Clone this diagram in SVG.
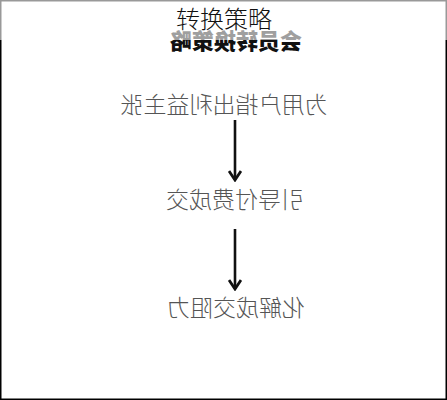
<svg xmlns="http://www.w3.org/2000/svg" width="447" height="400" viewBox="0 0 447 400">
<style>
.m{font-family:"Noto Sans CJK SC","Noto Sans",sans-serif;font-size:23px;fill:#555;text-anchor:middle;font-weight:300}
.t{font-family:"Noto Sans CJK SC","Noto Sans",sans-serif;font-size:22px;fill:#111;text-anchor:middle;font-weight:900}
.a{stroke:#111;stroke-width:2.6;fill:none}
</style>
<defs>
<marker id="ah" viewBox="0 0 14 14" refX="12" refY="7" markerWidth="14" markerHeight="14" markerUnits="userSpaceOnUse" orient="auto">
<path d="M3,1 L12,7 L3,13" stroke="#111" stroke-width="2.8" fill="none"/>
</marker>
</defs>
<rect x="0" y="0" width="447" height="400" fill="#fff"/>
<g id="frame">
<rect x="0.75" y="0.75" width="445.5" height="398.5" fill="none" stroke="#000" stroke-width="1.5"/>
</g>
<g id="title"><text class="t" transform="translate(236,49) scale(-1,1)">会员转换策略</text></g>
<g id="n1"><text class="m" transform="translate(224,113) scale(-1,1)">为用户指出利益主张</text></g>
<g id="n2"><text class="m" transform="translate(235,208) scale(-1,1)">引导付费成交</text></g>
<g id="n3"><text class="m" transform="translate(236,316) scale(-1,1)">化解成交阻力</text></g>
<g id="connectors">
<line class="a" x1="235" y1="120" x2="235" y2="180" marker-end="url(#ah)"/>
<line class="a" x1="235" y1="229" x2="235" y2="289" marker-end="url(#ah)"/>
</g>
<rect id="band" x="0" y="0" width="447" height="40" fill="#fff" opacity="0.6"/>
<g id="header"><text x="224" y="28" font-family="Noto Sans CJK SC, sans-serif" font-size="24" font-weight="300" fill="#111" text-anchor="middle">转换策略</text></g>
</svg>
